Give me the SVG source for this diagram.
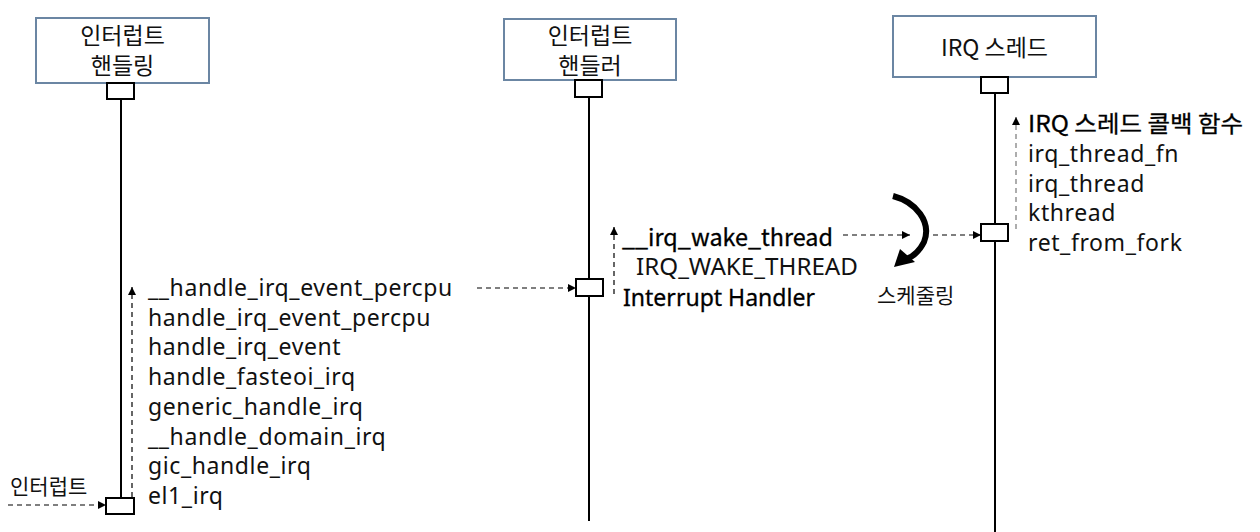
<svg xmlns="http://www.w3.org/2000/svg" width="1260" height="532" viewBox="0 0 1260 532">
<defs>
<style>
.hdr{fill:#fff;stroke:#6b86a3;stroke-width:2}
.act{fill:#fff;stroke:#000;stroke-width:2}
.life{stroke:#000;stroke-width:2}
.dash{stroke:#000;stroke-width:1.2;stroke-dasharray:5 4;fill:none}
.gdash{stroke:#777;stroke-width:1.2;stroke-dasharray:5 4;fill:none}
.t{font-family:"Noto Sans","Noto Sans CJK KR",sans-serif;fill:#111}
.k{font-family:"Noto Sans CJK KR","Noto Sans",sans-serif;fill:#111}
.m{fill:#000;stroke:#000;stroke-width:0.3}
.title{font-size:23px;text-anchor:middle}
.fn{font-size:23px;letter-spacing:0.6px}
</style>
<marker id="ah" viewBox="0 0 10 10" refX="10" refY="5" markerWidth="8" markerHeight="8" markerUnits="userSpaceOnUse" orient="auto">
<path d="M0,0 L10,5 L0,10 z" fill="#000"/>
</marker>
</defs>

<g id="lifelines">
<line class="life" x1="121" y1="99" x2="121" y2="498"/>
<line class="life" x1="589" y1="97" x2="589" y2="521"/>
<line class="life" x1="995" y1="93" x2="995" y2="532"/>
</g>

<g id="node-handling">
<rect class="hdr" x="36" y="18" width="173" height="65"/>
<text class="t title"><tspan x="122.5" y="44">인터럽트</tspan><tspan x="122.5" y="74">핸들링</tspan></text>
<rect class="act" x="107" y="83" width="27" height="16"/>
<rect class="act" x="106" y="498" width="28" height="16"/>
</g>

<g id="node-handler">
<rect class="hdr" x="504" y="19" width="172" height="61"/>
<text class="t title"><tspan x="590" y="44">인터럽트</tspan><tspan x="590" y="74">핸들러</tspan></text>
<rect class="act" x="575" y="80" width="27" height="17"/>
<rect class="act" x="576" y="279" width="27" height="17"/>
</g>

<g id="node-irqthread">
<rect class="hdr" x="893" y="16" width="203" height="61"/>
<text class="k title" x="994.5" y="56">IRQ 스레드</text>
<rect class="act" x="981" y="77" width="27" height="16"/>
<rect class="act" x="981" y="224" width="27" height="17"/>
</g>

<g id="stack-left">
<text class="t fn"><tspan x="148" y="296">__handle_irq_event_percpu</tspan><tspan x="148" y="325.7">handle_irq_event_percpu</tspan><tspan x="148" y="355.4">handle_irq_event</tspan><tspan x="148" y="385.1">handle_fasteoi_irq</tspan><tspan x="148" y="414.8">generic_handle_irq</tspan><tspan x="148" y="444.5">__handle_domain_irq</tspan><tspan x="148" y="474.2">gic_handle_irq</tspan><tspan x="148" y="503.9">el1_irq</tspan></text>
</g>

<g id="stack-mid">
<text class="k m" x="622" y="246" font-size="23" textLength="211" lengthAdjust="spacingAndGlyphs">__irq_wake_thread</text>
<text class="t" x="636" y="275" font-size="23" textLength="222" lengthAdjust="spacingAndGlyphs">IRQ_WAKE_THREAD</text>
<text class="t m" x="623" y="306" font-size="23" textLength="192" lengthAdjust="spacingAndGlyphs">Interrupt Handler</text>
</g>

<g id="stack-right">
<text class="k m" x="1028" y="132" font-size="23" textLength="215" lengthAdjust="spacingAndGlyphs">IRQ 스레드 콜백 함수</text>
<text class="t fn"><tspan x="1028" y="162">irq_thread_fn</tspan><tspan x="1028" y="191.5">irq_thread</tspan><tspan x="1028" y="221">kthread</tspan><tspan x="1028" y="250.5">ret_from_fork</tspan></text>
</g>

<g id="labels">
<text class="k" x="10" y="494" font-size="21">인터럽트</text>
<text class="k" x="877" y="303" font-size="21">스케줄링</text>
</g>

<g id="connectors">
<line class="dash" x1="8" y1="505" x2="106" y2="505" marker-end="url(#ah)"/>
<line class="dash" x1="132" y1="497" x2="132" y2="287" marker-end="url(#ah)"/>
<line class="dash" x1="477" y1="288" x2="576" y2="288" marker-end="url(#ah)"/>
<line class="dash" x1="614" y1="294" x2="614" y2="227" marker-end="url(#ah)"/>
<line class="dash" x1="843" y1="235" x2="910" y2="235" marker-end="url(#ah)"/>
<line class="dash" x1="933" y1="235" x2="981" y2="235" marker-end="url(#ah)"/>
<line class="gdash" x1="1016" y1="229" x2="1016" y2="117" marker-end="url(#ah)"/>
<path d="M893 196 C916 202 932 222 924 242 C919 252 912 257 906 259" fill="none" stroke="#000" stroke-width="6"/>
<path d="M894 267 L900 249 L915 262 Z" fill="#000"/>
</g>
</svg>
